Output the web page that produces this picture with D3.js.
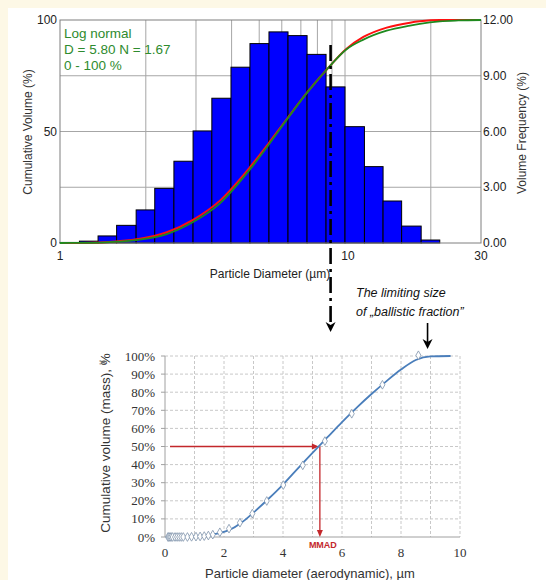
<!DOCTYPE html>
<html lang="en">
<head>
<meta charset="UTF-8">
<title>Particle size distribution and ballistic fraction</title>
<script src="https://d3js.org/d3.v7.min.js"></script>
<style>
  body { margin: 0; background: #fdf8e6; }
  svg { display: block; font-family: "Liberation Sans", Arial, sans-serif; }
</style>
</head>
<body>
<script>
// top chart: log-binned histogram (right axis) + cumulative fits (left axis)
var binEdges = [1.00, 1.17, 1.36, 1.58, 1.85, 2.15, 2.51, 2.93, 3.41, 3.98, 4.64,
                5.41, 6.31, 7.36, 8.58, 10.0, 11.7, 13.6, 15.8, 18.5, 21.5];
var volFreq = [0.03, 0.10, 0.38, 0.95, 1.78, 2.94, 4.40, 6.03, 7.79, 9.46,
               10.73, 11.36, 11.16, 10.15, 8.40, 6.26, 4.11, 2.26, 0.91, 0.16];
var cumX = [1.0, 1.2, 1.38, 1.6, 1.91, 2.37, 2.94, 3.64, 4.64, 5.38, 6.24,
            7.34, 8.63, 10.1, 11.6, 14.0, 16.9, 18.3, 21.5, 25, 30];
var cumRed = [0, 0.05, 0.25, 0.8, 1.9, 4.8, 10.5, 19.0, 34.0, 44.5, 55.5,
              67.3, 77.8, 87.0, 92.4, 96.6, 98.8, 99.4, 100, 100, 100];
var cumGreen = [0, 0.05, 0.2, 0.6, 1.5, 4.0, 9.5, 17.8, 33.0, 43.8, 55.2,
                67.2, 77.8, 86.8, 91.2, 95.2, 97.5, 98.3, 99.4, 99.8, 100];
var topXTicks = [1, 10, 30];
var topXGrid = [2, 3, 4, 5, 6, 7, 8, 9, 10, 20];
var cumTicks = [0, 50, 100];
var cumGrid = [25, 50, 75];
var freqTicks = [0, 3, 6, 9, 12];
var fitLabel = ["Log normal", "D = 5.80 N = 1.67", "0 - 100 %"];

// bottom chart: cumulative mass vs aerodynamic diameter
var aeroX = [0.1, 0.13, 0.17, 0.21, 0.26, 0.34, 0.41, 0.48, 0.55, 0.62, 0.76, 0.9,
             1.05, 1.19, 1.33, 1.47, 1.62, 1.86, 2.17, 2.54, 2.96, 3.45, 4.01,
             4.67, 5.42, 6.33, 7.37, 8.59];
var aeroY = [0, 0, 0, 0, 0, 0, 0, 0, 0, 0, 0, 0.1,
             0.2, 0.3, 0.5, 0.8, 1.3, 2.6, 4.6, 7.9, 12.9, 19.9, 28.7,
             39.6, 53.0, 68.1, 84.1, 100.4];
var fitX = [0.1, 0.5, 1.0, 1.4, 1.8, 2.2, 2.6, 3.0, 3.5, 4.0, 4.6, 5.0, 5.5,
            6.0, 6.5, 7.0, 7.5, 8.0, 8.5, 9.0, 9.68];
var fitY = [0, 0.1, 0.3, 0.8, 2.0, 4.0, 8.0, 13.5, 21, 29, 39.6, 46.5, 55,
            63.5, 71.5, 79, 86, 92.5, 97.8, 99.8, 100];
var bottomYTicks = [0, 10, 20, 30, 40, 50, 60, 70, 80, 90, 100];
var bottomXTicks = [0, 2, 4, 6, 8, 10];
var bottomXGrid = [1, 2, 3, 4, 5, 6, 7, 8, 9, 10];
var mmad = 5.25;
var ballisticLimit = 8.9;

var serif = "'Liberation Serif', 'DejaVu Serif', serif";

var svg = d3.select("body").append("svg").attr("width", 546).attr("height", 580);
svg.append("rect").attr("x", 8).attr("y", 8).attr("width", 538).attr("height", 572).attr("fill", "#fff");

// ---------- top chart ----------
var xT = d3.scaleLog().domain([1, 30]).range([60, 481]);
var yC = d3.scaleLinear().domain([0, 100]).range([243, 20]);
var yF = d3.scaleLinear().domain([0, 12]).range([243, 20]);

var topG = svg.append("g");
topG.selectAll("line.vg").data(topXGrid).enter().append("line")
  .attr("x1", d => xT(d)).attr("x2", d => xT(d)).attr("y1", 20).attr("y2", 243)
  .attr("stroke", "#a6a6a6").attr("stroke-width", 1);
topG.selectAll("line.hg").data(cumGrid).enter().append("line")
  .attr("x1", 60).attr("x2", 481).attr("y1", d => yC(d)).attr("y2", d => yC(d))
  .attr("stroke", "#a6a6a6").attr("stroke-width", 1);

topG.selectAll("rect.bar").data(volFreq).enter().append("rect")
  .attr("x", (d, i) => xT(binEdges[i]))
  .attr("width", (d, i) => xT(binEdges[i + 1]) - xT(binEdges[i]))
  .attr("y", d => yF(d)).attr("height", d => yF(0) - yF(d))
  .attr("fill", "#0000ff").attr("stroke", "#000").attr("stroke-width", 1);

topG.append("rect").attr("x", 60).attr("y", 20).attr("width", 421).attr("height", 223)
  .attr("fill", "none").attr("stroke", "#7f7f7f").attr("stroke-width", 1);

var cumLine = d3.line().curve(d3.curveMonotoneX);
topG.append("path").attr("d", cumLine(cumX.map((d, i) => [xT(d), yC(cumRed[i])])))
  .attr("fill", "none").attr("stroke", "#ff1010").attr("stroke-width", 2);
topG.append("path").attr("d", cumLine(cumX.map((d, i) => [xT(d), yC(cumGreen[i])])))
  .attr("fill", "none").attr("stroke", "#1e8a1e").attr("stroke-width", 1.8);

topG.selectAll("text.cl").data(cumTicks).enter().append("text")
  .attr("x", 57).attr("y", d => yC(d)).attr("dy", "0.35em").attr("text-anchor", "end")
  .attr("font-size", 12).attr("fill", "#222").text(d => d);
topG.selectAll("text.fr").data(freqTicks).enter().append("text")
  .attr("x", 483).attr("y", d => yF(d)).attr("dy", "0.35em")
  .attr("font-size", 12).attr("fill", "#222").text(d => d.toFixed(2));
topG.selectAll("text.xl").data(topXTicks).enter().append("text")
  .attr("x", d => xT(d) + (d == 10 ? 3 : 0)).attr("y", 260).attr("text-anchor", "middle")
  .attr("font-size", 12).attr("fill", "#222").text(d => d);

topG.selectAll("text.fit").data(fitLabel).enter().append("text")
  .attr("x", 64).attr("y", (d, i) => 38 + i * 16)
  .attr("font-size", 13.5).attr("fill", "#2e8b2e").text(d => d);

topG.append("text").attr("transform", "translate(32,132) rotate(-90)")
  .attr("text-anchor", "middle").attr("font-size", 12).attr("fill", "#333")
  .text("Cumulative Volume (%)");
topG.append("text").attr("transform", "translate(526,133) rotate(-90)")
  .attr("text-anchor", "middle").attr("font-size", 12).attr("fill", "#333")
  .text("Volume Frequency (%)");
topG.append("text").attr("x", 270).attr("y", 278).attr("text-anchor", "middle")
  .attr("font-size", 12).attr("fill", "#222").text("Particle Diameter (\u00b5m)");

// dash-dot marker at the ballistic limit, running down to the lower chart
var xLim = xT(ballisticLimit);
svg.append("line").attr("x1", xLim).attr("x2", xLim).attr("y1", 45).attr("y2", 326)
  .attr("stroke", "#000").attr("stroke-width", 2.6).attr("stroke-dasharray", "16,5,3,5");
svg.append("path")
  .attr("d", `M${xLim - 5},${322} L${xLim},${332} L${xLim + 5},${322} L${xLim},${325}Z`)
  .attr("fill", "#000");

svg.append("text").attr("x", 356).attr("y", 297).attr("font-size", 12.5)
  .attr("font-style", "italic").attr("fill", "#111").text("The limiting size");
svg.append("text").attr("x", 356).attr("y", 316).attr("font-size", 12.5)
  .attr("font-style", "italic").attr("fill", "#111").text("of \u201eballistic fraction\u201d");

// ---------- bottom chart ----------
var xB = d3.scaleLinear().domain([0, 10]).range([165, 460]);
var yB = d3.scaleLinear().domain([0, 100]).range([537, 356]);

var bot = svg.append("g");
bot.selectAll("line.vg").data(bottomXGrid).enter().append("line")
  .attr("x1", d => xB(d)).attr("x2", d => xB(d)).attr("y1", 356).attr("y2", 537)
  .attr("stroke", "#c8c8c8").attr("stroke-dasharray", "3,2");
bot.selectAll("line.hg").data(bottomYTicks.slice(1)).enter().append("line")
  .attr("x1", 165).attr("x2", 460).attr("y1", d => yB(d)).attr("y2", d => yB(d))
  .attr("stroke", "#c8c8c8").attr("stroke-dasharray", "3,2");
bot.append("line").attr("x1", 165).attr("x2", 165).attr("y1", 356).attr("y2", 537)
  .attr("stroke", "#a0a0a0");
bot.append("line").attr("x1", 165).attr("x2", 460).attr("y1", 537).attr("y2", 537)
  .attr("stroke", "#a0a0a0");
bot.selectAll("line.yt").data(bottomYTicks).enter().append("line")
  .attr("x1", 161).attr("x2", 165).attr("y1", d => yB(d)).attr("y2", d => yB(d))
  .attr("stroke", "#a0a0a0");

bot.selectAll("text.yl").data(bottomYTicks).enter().append("text")
  .attr("x", 155).attr("y", d => yB(d)).attr("dy", "0.35em").attr("text-anchor", "end")
  .style("font-family", serif).attr("font-size", 13).attr("fill", "#333")
  .text(d => d + "%");
bot.selectAll("text.xl").data(bottomXTicks).enter().append("text")
  .attr("x", d => xB(d)).attr("y", 557).attr("text-anchor", "middle")
  .style("font-family", serif).attr("font-size", 13).attr("fill", "#333")
  .text(d => d);

bot.append("text").attr("transform", "translate(110,443) rotate(-90)")
  .attr("text-anchor", "middle").attr("font-size", 13.5).attr("fill", "#333")
  .text("Cumulative volume (mass), %");
bot.append("text").attr("x", 310).attr("y", 578).attr("text-anchor", "middle")
  .attr("font-size", 13).attr("fill", "#333")
  .text("Particle diameter (aerodynamic), \u00b5m");

// MMAD guide arrows
var red = "#c3272b";
var yHalf = yB(50), xM = xB(mmad);
bot.append("line").attr("x1", xB(0.17)).attr("x2", xM - 6).attr("y1", yHalf).attr("y2", yHalf)
  .attr("stroke", red).attr("stroke-width", 1.3);
bot.append("path").attr("d", `M${xM - 8},${yHalf - 3} L${xM - 1},${yHalf} L${xM - 8},${yHalf + 3}Z`)
  .attr("fill", red);
bot.append("line").attr("x1", xM).attr("x2", xM).attr("y1", yHalf).attr("y2", 531)
  .attr("stroke", red).attr("stroke-width", 1.3);
bot.append("path").attr("d", `M${xM - 3},530 L${xM},537 L${xM + 3},530Z`).attr("fill", red);
bot.append("text").attr("x", xM + 3).attr("y", 548).attr("text-anchor", "middle")
  .attr("font-size", 9).attr("font-weight", "bold").attr("fill", red).text("MMAD");

bot.append("path").attr("d", d3.line().curve(d3.curveMonotoneX)(fitX.map((d, i) => [xB(d), yB(fitY[i])])))
  .attr("fill", "none").attr("stroke", "#4a7ebb").attr("stroke-width", 1.8);

bot.selectAll("path.pt").data(aeroX).enter().append("path")
  .attr("transform", (d, i) => `translate(${xB(d)},${yB(aeroY[i])})`)
  .attr("d", d3.symbol().type(d3.symbolDiamond).size(22))
  .attr("fill", "#fff").attr("stroke", "#7f93ab").attr("stroke-width", 0.8);

// ballistic limit arrow on the lower chart
var xBal = xB(ballisticLimit);
svg.append("line").attr("x1", xBal).attr("x2", xBal).attr("y1", 323).attr("y2", 344)
  .attr("stroke", "#000").attr("stroke-width", 1.6);
svg.append("path")
  .attr("d", `M${xBal - 5},${339} L${xBal},${349} L${xBal + 5},${339} L${xBal},${342}Z`)
  .attr("fill", "#000");

svg.append("text").attr("x", 103).attr("y", 366).attr("text-anchor", "middle")
  .attr("font-size", 10).attr("fill", "#666").text("\u2702");
</script>
</body>
</html>
